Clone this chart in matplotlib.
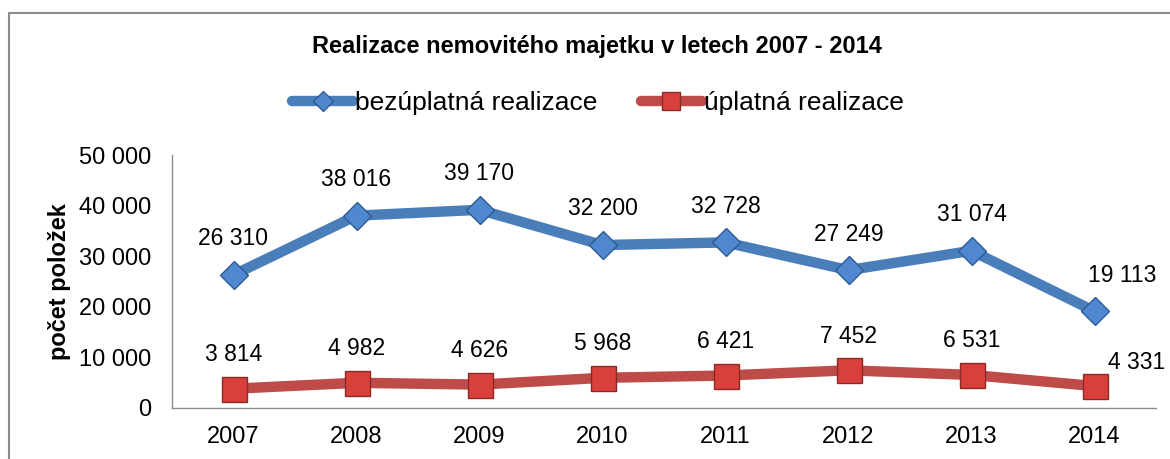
import numpy as np
import matplotlib.pyplot as plt
from matplotlib.patches import Rectangle
from matplotlib.ticker import FuncFormatter

plt.rcParams['font.family'] = ['Liberation Sans', 'DejaVu Sans']

years = ['2007', '2008', '2009', '2010', '2011', '2012', '2013', '2014']
bezuplatna = [26310, 38016, 39170, 32200, 32728, 27249, 31074, 19113]
uplatna = [3814, 4982, 4626, 5968, 6421, 7452, 6531, 4331]


def fmt(v):
    return f'{int(v):,}'.replace(',', ' ')


fig = plt.figure(figsize=(11.7, 4.59), dpi=100)
ax = fig.add_axes([172 / 1170, 1 - 408 / 459, (1156 - 172) / 1170, (408 - 155) / 459])

# outer chart frame
fig.patches.append(Rectangle((9 / 1170, -0.2), 1.2, 0.2 + 1 - 13 / 459,
                             transform=fig.transFigure, fill=False,
                             edgecolor='#8c8c8c', linewidth=1.5))

x = np.arange(len(years))
blue = '#4a7ebb'
red = '#be4b48'
ax.plot(x, bezuplatna, color=blue, linewidth=7.5, marker='D', markersize=14,
        markerfacecolor='#4f88d0', markeredgecolor='#2d5b91', markeredgewidth=1,
        label='bezúplatná realizace', solid_capstyle='round', clip_on=False, zorder=3)
ax.plot(x, uplatna, color=red, linewidth=7.5, marker='s', markersize=18,
        markerfacecolor='#d9403c', markeredgecolor='#8a2a27', markeredgewidth=1,
        label='úplatná realizace', solid_capstyle='round', clip_on=False, zorder=3)

for i, v in enumerate(bezuplatna):
    dx = 20 if i == len(years) - 1 else 0
    ax.annotate(fmt(v), (x[i], v), xytext=(dx, 26), textcoords='offset points',
                ha='center', va='center', fontsize=16.5, annotation_clip=False)
for i, v in enumerate(uplatna):
    if i == len(years) - 1:
        ax.annotate(fmt(v), (x[i], v), xytext=(30, 17), textcoords='offset points',
                    ha='center', va='center', fontsize=16.5, annotation_clip=False)
    else:
        ax.annotate(fmt(v), (x[i], v), xytext=(0, 24.5), textcoords='offset points',
                    ha='center', va='center', fontsize=16.5, annotation_clip=False)

ax.set_xlim(-0.5, 7.5)
ax.set_ylim(0, 50000)
ax.set_yticks(np.arange(0, 50001, 10000))
ax.yaxis.set_major_formatter(FuncFormatter(lambda v, p: fmt(v)))
ax.set_xticks(x)
ax.set_xticklabels(years)
ax.tick_params(axis='both', length=0, labelsize=17)
ax.tick_params(axis='x', pad=13)
ax.tick_params(axis='y', pad=15)
for s in ['top', 'right']:
    ax.spines[s].set_visible(False)
for s in ['left', 'bottom']:
    ax.spines[s].set_color('#8c8c8c')
    ax.spines[s].set_linewidth(1)
ax.set_ylabel('počet položek', fontsize=17, fontweight='bold', labelpad=6)

fig.text(597 / 1170, 1 - 47 / 459, 'Realizace nemovitého majetku v letech 2007 - 2014',
         ha='center', va='center', fontsize=17, fontweight='bold')

leg = ax.legend(loc='center', bbox_to_anchor=(598 / 1170, 1 - 103 / 459),
                bbox_transform=fig.transFigure, ncol=2, frameon=False,
                fontsize=19, handlelength=2.3, handletextpad=0.08,
                columnspacing=1.65, borderaxespad=0, borderpad=0,
                markerscale=0.75)

fig.savefig('out.png', dpi=100)
